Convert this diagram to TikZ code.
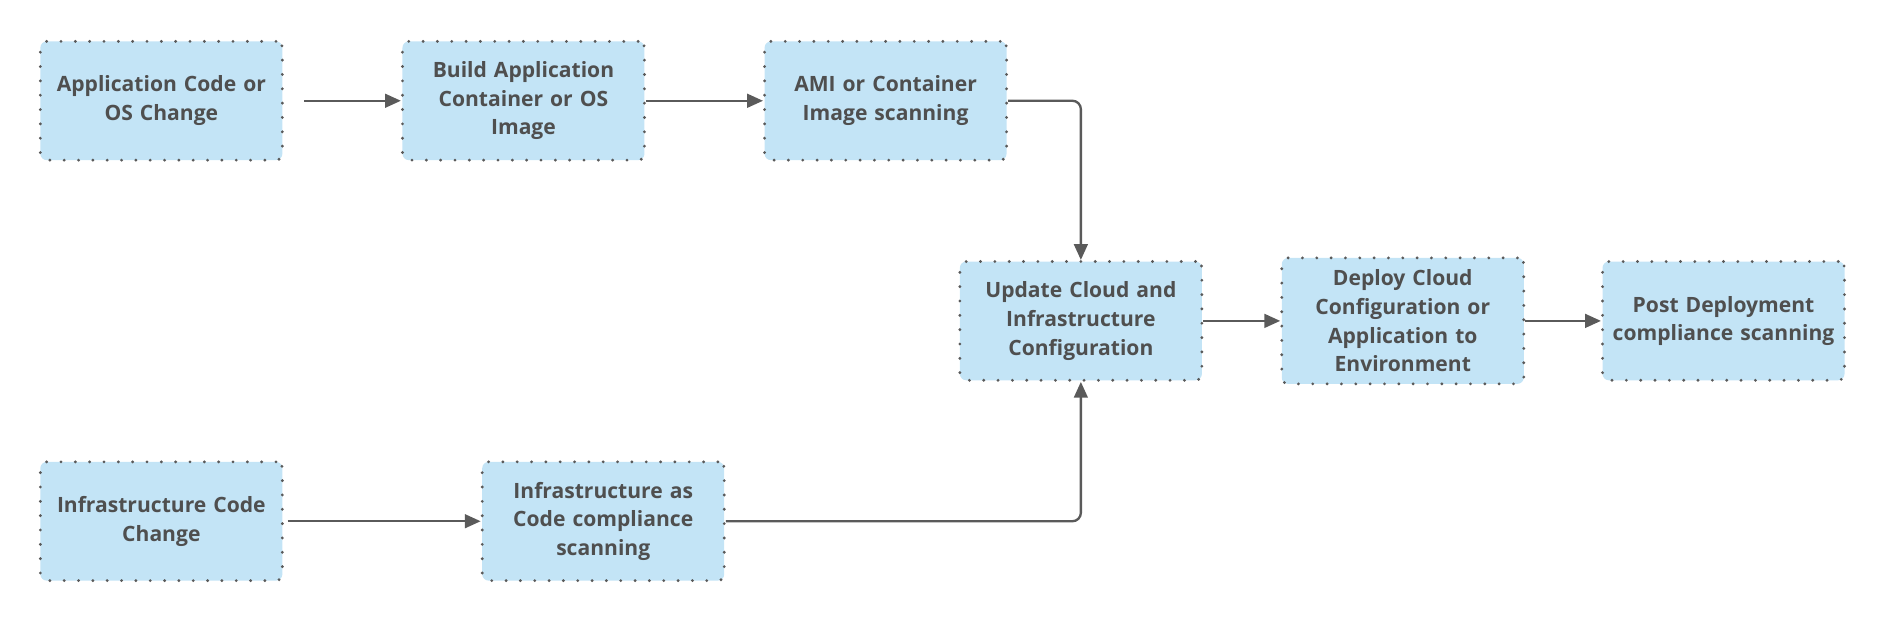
\documentclass[tikz,border=0pt]{standalone}
\usepackage{fontspec}
\setmainfont{Open Sans}
\usetikzlibrary{positioning,arrows.meta}
\definecolor{boxfill}{HTML}{C3E4F6}
\definecolor{boxline}{HTML}{5A5A5A}
\definecolor{inkgray}{HTML}{4F4F4F}
\tikzset{
	stage/.style={rectangle, rounded corners=3pt, fill=boxfill, draw=boxline,
		line width=1.5pt, line cap=round, dash pattern=on 0pt off 6.8pt,
		minimum width=4cm, minimum height=1.98cm, text width=3.8cm, align=center,
		text=inkgray, font=\fontsize{10pt}{13.6pt}\selectfont\bfseries},
	flow/.style={-{Triangle[length=7.5pt,width=6.5pt]}, draw=boxline, line width=1.1pt, rounded corners=4pt},
}

\begin{document}
\begin{tikzpicture}[]
	\useasboundingbox (0,0) rectangle (31.36,-10.4);
	\node[stage] (appchange) at (2.69,-1.68) {Application Code or\\OS Change};
	\node[stage, right = 1.95cm of appchange] (buildimage) {Build Application\\Container or OS\\Image};
	\node[stage, right = 1.95cm of buildimage] (imagescan) {AMI or Container\\Image scanning};
	\node[stage] (updatecloud) at (18.02,-5.35) {Update Cloud and\\Infrastructure\\Configuration};
	\node[stage, minimum height=2.1cm, right = 1.28cm of updatecloud] (deploy) {Deploy Cloud\\Configuration or\\Application to\\Environment};
	\node[stage, right = 1.26cm of deploy] (postscan) {Post Deployment\\compliance scanning};
	\node[stage] (infrachange) at (2.69,-8.69) {Infrastructure Code\\Change};
	\node[stage, right = 3.28cm of infrachange] (iacscan) {Infrastructure as\\Code compliance\\scanning};

	\path[flow, shorten <=0.34cm] (appchange) -- (buildimage);
	\path[flow] (buildimage) -- (imagescan);
	\path[flow] (imagescan.east) -| (updatecloud.north);
	\path[flow] (updatecloud) -- (deploy);
	\path[flow] (deploy) -- (postscan);
	\path[flow, shorten <=0.06cm] (infrachange) -- (iacscan);
	\path[flow] (iacscan.east) -| (updatecloud.south);
\end{tikzpicture}
\end{document}
